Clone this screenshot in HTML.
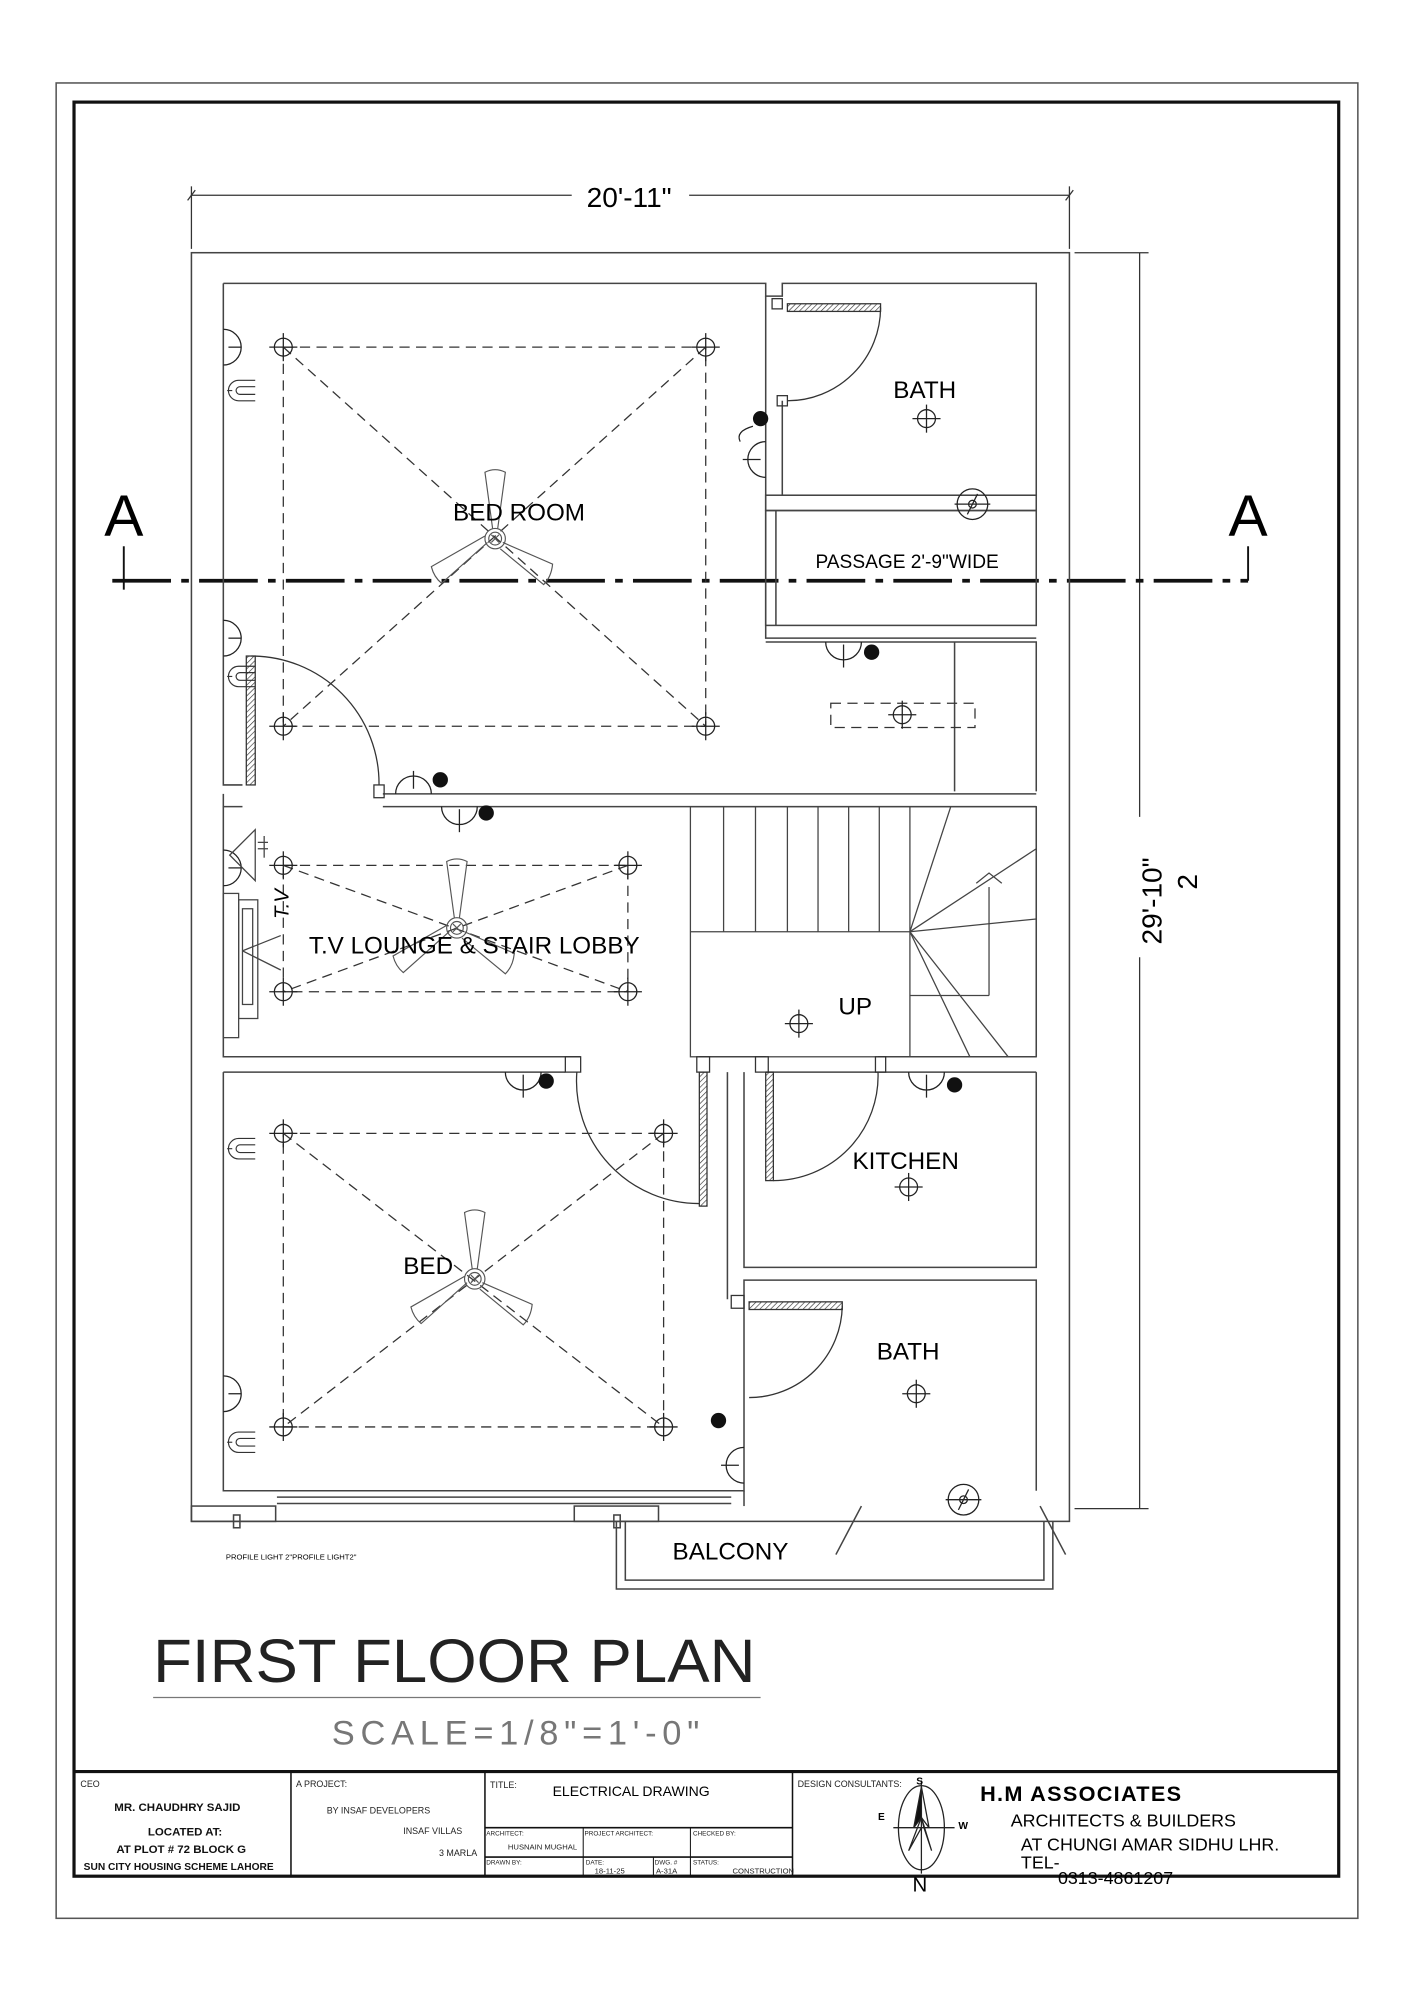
<!DOCTYPE html>
<html><head><meta charset="utf-8"><style>
html,body{margin:0;padding:0;background:#fff;}
svg{display:block;}
text{font-family:"Liberation Sans",sans-serif;}
</style></head><body>
<svg width="1414" height="2000" viewBox="0 0 1108 1567" preserveAspectRatio="none" xmlns="http://www.w3.org/2000/svg">
<defs>
<pattern id="h" width="3" height="3" patternUnits="userSpaceOnUse" patternTransform="rotate(45)"><line x1="0" y1="0" x2="0" y2="3" stroke="#333" stroke-width="1"/></pattern>
<g id="lp"><circle r="7" fill="none" stroke="#222" stroke-width="1"/><line x1="-11" y1="0" x2="11" y2="0" stroke="#222" stroke-width="1"/><line x1="0" y1="-11" x2="0" y2="11" stroke="#222" stroke-width="1"/></g>
<g id="fan" fill="none" stroke="#555" stroke-width="0.9">
<circle r="8"/><circle r="5"/><line x1="-3" y1="-3" x2="3" y2="3"/><line x1="-3" y1="3" x2="3" y2="-3"/>
<path d="M-2,-8 L-8,-52 Q0,-56 8,-52 L2,-8"/>
<path d="M6,3 L45,20 Q44,30 38,36 L4,8"/>
<path d="M-6,3 L-42,35 Q-48,30 -50,22 L-8,-2"/>
</g>
<g id="sw" fill="none" stroke="#222" stroke-width="1"><path d="M0,-14 A14,14 0 0 1 0,14"/><line x1="4" y1="0" x2="14" y2="0"/></g>
<g id="so" fill="none" stroke="#333" stroke-width="0.9"><path d="M22,-8 L9,-8 A8,8 0 0 0 9,8 L22,8"/><path d="M22,-3 L10,-3 A3,3 0 0 0 10,3 L22,3"/><line x1="0" y1="0" x2="4" y2="0"/></g>
<g id="ex" fill="none" stroke="#222" stroke-width="1"><circle r="12"/><circle r="3"/><line x1="-4" y1="8" x2="4" y2="-8"/><line x1="-14" y1="0" x2="14" y2="0"/></g>
</defs>

<rect x="44" y="65" width="1020" height="1438" fill="none" stroke="#555" stroke-width="1.2"/>
<rect x="58" y="80" width="991" height="1390" fill="none" stroke="#111" stroke-width="2.5"/>

<g stroke="#333" stroke-width="1" fill="none">
<line x1="150" y1="153" x2="448" y2="153"/><line x1="540" y1="153" x2="838" y2="153"/>
<line x1="150" y1="146" x2="150" y2="195"/><line x1="838" y1="146" x2="838" y2="195"/>
<line x1="147" y1="157" x2="153" y2="149"/><line x1="835" y1="157" x2="841" y2="149"/>
<line x1="893" y1="198" x2="893" y2="640"/><line x1="893" y1="750" x2="893" y2="1182"/>
<line x1="842" y1="198" x2="900" y2="198"/><line x1="842" y1="1182" x2="900" y2="1182"/>
</g>
<text x="493" y="162" font-size="22" text-anchor="middle">20'-11"</text>
<text transform="translate(910,740) rotate(-90)" font-size="22">29'-10"</text>
<text transform="translate(938,697) rotate(-90)" font-size="22">2</text>

<line x1="88" y1="455" x2="978" y2="455" stroke="#111" stroke-width="3" stroke-dasharray="46,8,6,8"/>
<line x1="97" y1="428" x2="97" y2="462" stroke="#111" stroke-width="1.5"/>
<line x1="978" y1="428" x2="978" y2="455" stroke="#111" stroke-width="1.5"/>
<text x="97" y="420" font-size="46" text-anchor="middle">A</text>
<text x="978" y="420" font-size="46" text-anchor="middle">A</text>

<g fill="none" stroke="#444" stroke-width="1.2">
<rect x="150" y="198" width="688" height="994"/>
<path d="M175,222 H600 V232 H613 V222 H812 V388 H613 V314"/>
<path d="M175,222 V615 H190"/>
<rect x="600" y="388" width="212" height="12"/>
<path d="M600,232 V500 H812"/><line x1="608" y1="400" x2="608" y2="490"/>
<rect x="600" y="400" width="212" height="90"/>
<path d="M600,503 H812 V620"/><line x1="748" y1="503" x2="748" y2="620"/>
<path d="M300,622 H812 M300,632 H812"/><path d="M175,622 V632 H190"/>
<path d="M175,632 V828 H455 M548,828 H600 M688,828 H812"/>
<path d="M175,840 V1168 H583 V1003 H812 V1168"/>
<path d="M175,840 H443 M600,840 H812"/>
<path d="M583,840 V993 H812 V840"/>
<path d="M570,840 V1018"/>
<path d="M812,632 V828"/>
<line x1="217" y1="1173" x2="573" y2="1173"/><line x1="217" y1="1178" x2="573" y2="1178"/>
<rect x="150" y="1180" width="66" height="12"/><rect x="450" y="1180" width="66" height="12"/>
<path d="M483,1192 V1245 H825 V1192"/><path d="M490,1192 V1238 H818 V1192"/>
<line x1="655" y1="1218" x2="675" y2="1180"/><line x1="815" y1="1180" x2="835" y2="1218"/>
<line x1="583" y1="1168" x2="583" y2="1180"/>
<rect x="183" y="1187" width="5" height="10"/><rect x="481" y="1187" width="5" height="10"/>
</g>
<text x="177" y="1222" font-size="6">PROFILE LIGHT 2"PROFILE LIGHT2"</text>
<text x="527" y="1222" font-size="19">BALCONY</text>

<g fill="none" stroke="#444" stroke-width="1">
<rect x="541" y="632" width="271" height="196"/>
<line x1="541" y1="730" x2="713" y2="730"/>
<line x1="567" y1="632" x2="567" y2="730"/><line x1="592" y1="632" x2="592" y2="730"/><line x1="617" y1="632" x2="617" y2="730"/><line x1="641" y1="632" x2="641" y2="730"/><line x1="665" y1="632" x2="665" y2="730"/><line x1="689" y1="632" x2="689" y2="730"/><line x1="713" y1="632" x2="713" y2="828"/>
<line x1="713" y1="730" x2="745" y2="632"/><line x1="713" y1="730" x2="812" y2="665"/><line x1="713" y1="730" x2="812" y2="720"/><line x1="713" y1="730" x2="790" y2="828"/><line x1="713" y1="730" x2="760" y2="828"/>
<line x1="713" y1="780" x2="775" y2="780"/><line x1="775" y1="695" x2="775" y2="780"/><path d="M765,692 L775,684 L785,692"/>
</g>
<text x="657" y="795" font-size="19">UP</text>

<g fill="none" stroke="#333" stroke-width="1">
<rect x="193" y="514" width="7" height="101" fill="url(#h)"/><path d="M197,514 A100,100 0 0 1 297,615"/>
<rect x="293" y="615" width="8" height="10"/>
<rect x="617" y="238" width="73" height="6" fill="url(#h)"/><path d="M690,241 A73,73 0 0 1 617,314"/>
<rect x="609" y="310" width="8" height="8"/><rect x="605" y="234" width="8" height="8"/>
<rect x="548" y="840" width="6" height="105" fill="url(#h)"/><path d="M548,943 A96,96 0 0 1 452,840"/>
<rect x="443" y="828" width="12" height="12"/><rect x="546" y="828" width="10" height="12"/>
<rect x="600" y="840" width="6" height="85" fill="url(#h)"/><path d="M606,925 A82,82 0 0 0 688,840"/>
<rect x="592" y="828" width="10" height="12"/><rect x="686" y="828" width="8" height="12"/>
<rect x="587" y="1020" width="73" height="6" fill="url(#h)"/><path d="M660,1023 A73,73 0 0 1 587,1095"/>
<rect x="573" y="1015" width="10" height="10"/>
</g>

<g fill="none" stroke="#333" stroke-width="1" stroke-dasharray="8,5">
<rect x="222" y="272" width="331" height="297"/><line x1="222" y1="272" x2="553" y2="569"/><line x1="553" y1="272" x2="222" y2="569"/>
<rect x="222" y="678" width="270" height="99"/><line x1="222" y1="678" x2="492" y2="777"/><line x1="492" y1="678" x2="222" y2="777"/>
<rect x="222" y="888" width="298" height="230"/><line x1="222" y1="888" x2="520" y2="1118"/><line x1="520" y1="888" x2="222" y2="1118"/>
<rect x="651" y="551" width="113" height="19"/>
</g>

<use href="#lp" x="222" y="272"/><use href="#lp" x="553" y="272"/><use href="#lp" x="222" y="569"/><use href="#lp" x="553" y="569"/>
<use href="#lp" x="222" y="678"/><use href="#lp" x="492" y="678"/><use href="#lp" x="222" y="777"/><use href="#lp" x="492" y="777"/>
<use href="#lp" x="222" y="888"/><use href="#lp" x="520" y="888"/><use href="#lp" x="222" y="1118"/><use href="#lp" x="520" y="1118"/>
<use href="#lp" x="726" y="328"/><use href="#lp" x="707" y="560"/><use href="#lp" x="626" y="802"/><use href="#lp" x="712" y="930"/><use href="#lp" x="718" y="1092"/>

<use href="#fan" x="388" y="422"/><use href="#fan" x="358" y="727"/><use href="#fan" x="372" y="1002"/>
<use href="#ex" x="762" y="395"/><use href="#ex" x="755" y="1175"/>

<use href="#sw" x="175" y="272"/><use href="#sw" x="175" y="500"/><use href="#sw" x="175" y="1092"/><use href="#sw" x="175" y="680"/>
<use href="#so" x="178" y="306"/><use href="#so" x="178" y="530"/><use href="#so" x="178" y="900"/><use href="#so" x="178" y="1130"/>
<g fill="none" stroke="#222" stroke-width="1">
<path d="M600,346 A14,14 0 0 0 600,374"/><line x1="582" y1="360" x2="596" y2="360"/>
<path d="M583,1134 A14,14 0 0 0 583,1162"/><line x1="565" y1="1148" x2="579" y2="1148"/>
<path d="M647,503 A14,14 0 0 0 675,503"/><line x1="661" y1="505" x2="661" y2="523"/>
<path d="M310,622 A14,14 0 0 1 338,622"/><line x1="324" y1="604" x2="324" y2="618"/>
<path d="M346,632 A14,14 0 0 0 374,632"/><line x1="360" y1="634" x2="360" y2="652"/>
<path d="M396,840 A14,14 0 0 0 424,840"/><line x1="410" y1="842" x2="410" y2="860"/>
<path d="M712,840 A14,14 0 0 0 740,840"/><line x1="726" y1="842" x2="726" y2="860"/>
<path d="M590,334 Q576,338 580,346"/>
</g>
<g fill="#111">
<circle cx="596" cy="328" r="6"/><circle cx="683" cy="511" r="6"/><circle cx="345" cy="611" r="6"/><circle cx="381" cy="637" r="6"/><circle cx="428" cy="847" r="6"/><circle cx="748" cy="850" r="6"/><circle cx="563" cy="1113" r="6"/>
</g>

<g fill="none" stroke="#444" stroke-width="1">
<path d="M180,670 L200,650 L200,690 Z"/><line x1="202" y1="660" x2="210" y2="660"/><line x1="202" y1="665" x2="210" y2="665"/><line x1="207" y1="655" x2="207" y2="672"/>
<rect x="175" y="700" width="12" height="113"/><rect x="187" y="705" width="15" height="93"/><rect x="190" y="712" width="8" height="75"/>
<line x1="190" y1="745" x2="220" y2="733"/><line x1="190" y1="745" x2="220" y2="760"/>
</g>
<text transform="translate(226,720) rotate(-90)" font-size="16" font-style="italic" font-family="Liberation Serif">T.V</text>

<g font-size="19">
<text x="700" y="312">BATH</text>
<text x="355" y="408">BED ROOM</text>
<text x="639" y="445" font-size="15">PASSAGE 2'-9"WIDE</text>
<text x="242" y="747">T.V LOUNGE &amp; STAIR LOBBY</text>
<text x="668" y="916">KITCHEN</text>
<text x="316" y="998">BED</text>
<text x="687" y="1065">BATH</text>
</g>

<text x="120" y="1318" font-size="48" fill="#222" textLength="472" lengthAdjust="spacingAndGlyphs">FIRST FLOOR PLAN</text>
<line x1="120" y1="1330" x2="596" y2="1330" stroke="#777" stroke-width="1"/>
<text x="260" y="1367" font-size="27" fill="#777" textLength="288" lengthAdjust="spacing">SCALE=1/8"=1'-0"</text>

<g stroke="#111" fill="none">
<line x1="58" y1="1388" x2="1049" y2="1388" stroke-width="2.5"/>
<line x1="228" y1="1388" x2="228" y2="1470" stroke-width="1.2"/>
<line x1="380" y1="1388" x2="380" y2="1470" stroke-width="1.2"/>
<line x1="621" y1="1388" x2="621" y2="1470" stroke-width="1.2"/>
<line x1="380" y1="1432" x2="621" y2="1432" stroke-width="1.2"/>
<line x1="380" y1="1455" x2="621" y2="1455" stroke-width="1.2"/>
<line x1="457" y1="1432" x2="457" y2="1470" stroke-width="0.8"/>
<line x1="541" y1="1432" x2="541" y2="1470" stroke-width="0.8"/>
<line x1="512" y1="1455" x2="512" y2="1470" stroke-width="0.8"/>
</g>
<g font-size="7" fill="#222">
<text x="63" y="1400">CEO</text>
<text x="232" y="1400">A PROJECT:</text>
<text x="384" y="1401">TITLE:</text>
<text x="625" y="1400">DESIGN CONSULTANTS:</text>
<text x="256" y="1421">BY INSAF DEVELOPERS</text>
<text x="316" y="1437">INSAF VILLAS</text>
<text x="344" y="1454">3 MARLA</text>
<text x="381" y="1438" font-size="5">ARCHITECT:</text>
<text x="458" y="1438" font-size="5">PROJECT ARCHITECT:</text>
<text x="543" y="1438" font-size="5">CHECKED BY:</text>
<text x="398" y="1449" font-size="6">HUSNAIN MUGHAL</text>
<text x="381" y="1461" font-size="5">DRAWN BY:</text>
<text x="459" y="1461" font-size="5">DATE:</text>
<text x="513" y="1461" font-size="5">DWG. #</text>
<text x="543" y="1461" font-size="5">STATUS:</text>
<text x="466" y="1468" font-size="6">18-11-25</text>
<text x="514" y="1468" font-size="6">A-31A</text>
<text x="574" y="1468" font-size="6">CONSTRUCTION</text>
</g>
<g font-size="9" font-weight="bold" text-anchor="middle" fill="#111">
<text x="139" y="1419">MR. CHAUDHRY SAJID</text>
<text x="145" y="1438">LOCATED AT:</text>
<text x="142" y="1452">AT PLOT # 72 BLOCK G</text>
<text x="140" y="1465" font-size="8">SUN CITY HOUSING SCHEME LAHORE</text>
</g>
<text x="433" y="1407" font-size="11">ELECTRICAL DRAWING</text>
<g stroke="#222" fill="none" stroke-width="1">
<ellipse cx="722" cy="1432" rx="18" ry="33"/>
<line x1="722" y1="1395" x2="722" y2="1468"/><line x1="700" y1="1432" x2="748" y2="1432"/>
<path d="M722,1400 L716,1432 L722,1424 Z" fill="#111"/><path d="M722,1424 L730,1450 L724,1432 Z" fill="#111"/>
<path d="M722,1400 L728,1432 L722,1424" /><path d="M722,1424 L712,1450 L722,1432"/>
</g>
<text x="718" y="1398" font-size="8" font-weight="bold" font-family="Liberation Serif">S</text>
<text x="688" y="1426" font-size="8" font-weight="bold" font-family="Liberation Serif">E</text>
<text x="751" y="1433" font-size="8" font-weight="bold" font-family="Liberation Serif">W</text>
<text x="715" y="1482" font-size="16">N</text>
<text x="768" y="1411" font-size="17" font-weight="bold" font-family="Liberation Serif" letter-spacing="1">H.M  ASSOCIATES</text>
<text x="792" y="1431" font-size="14">ARCHITECTS &amp; BUILDERS</text>
<text x="800" y="1450" font-size="14">AT CHUNGI AMAR SIDHU LHR.</text>
<text x="800" y="1464" font-size="14">TEL-</text>
<text x="829" y="1476" font-size="14">0313-4861207</text>
</svg>
</body></html>
